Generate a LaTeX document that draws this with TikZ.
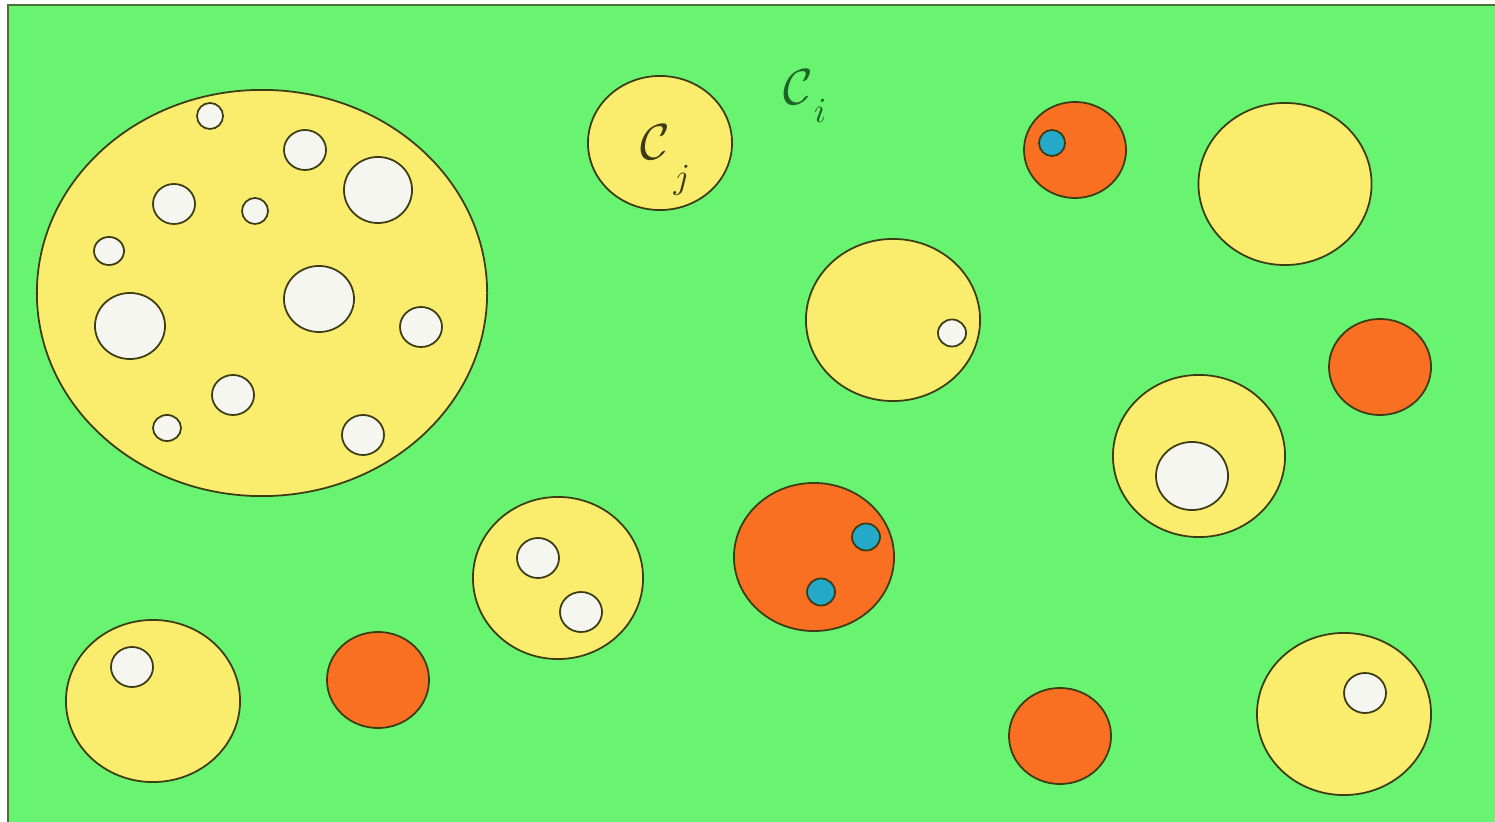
\documentclass[tikz,border=0pt]{standalone}
\usepackage{amsmath,amssymb}
\usepackage{tikz}
\usetikzlibrary{shapes.geometric, positioning}

\definecolor{field}{RGB}{104,244,112}
\definecolor{cellyel}{RGB}{250,236,108}
\definecolor{cellorg}{RGB}{250,112,34}
\definecolor{spotblue}{RGB}{36,170,200}
\definecolor{holewhite}{RGB}{246,246,240}
\definecolor{rim}{RGB}{60,60,20}
\definecolor{labgreen}{RGB}{30,100,40}

\begin{document}
\begin{tikzpicture}[
    x=0.01cm, y=-0.01cm, line width=0.5pt,
    cell/.style={ellipse, draw=rim, inner sep=0pt},
    yel/.style={cell, fill=cellyel},
    org/.style={cell, fill=cellorg},
    hole/.style={cell, fill=holewhite},
    spot/.style={cell, fill=spotblue}
]
\useasboundingbox (0,0) rectangle (1495,822);
\fill[white] (0,0) rectangle (1495,822);

% background field
\draw[draw=rim!70!field, fill=field] (8,5) rectangle (1500,830);

% 1. BIG CELL WITH HOLES
\node[yel, minimum width=4.50cm, minimum height=4.06cm] (big) at (262,293) {};
\node[hole, minimum width=0.26cm, minimum height=0.26cm] (h1) at (210,116) {};
\node[hole, minimum width=0.42cm, minimum height=0.40cm] (h2) at (305,150) {};
\node[hole, minimum width=0.68cm, minimum height=0.66cm] (h3) at (378,190) {};
\node[hole, minimum width=0.42cm, minimum height=0.40cm] (h4) at (174,204) {};
\node[hole, minimum width=0.26cm, minimum height=0.26cm] (h5) at (255,211) {};
\node[hole, minimum width=0.30cm, minimum height=0.28cm] (h6) at (109,251) {};
\node[hole, minimum width=0.70cm, minimum height=0.66cm] (h7) at (319,299) {};
\node[hole, minimum width=0.70cm, minimum height=0.66cm] (h8) at (130,326) {};
\node[hole, minimum width=0.42cm, minimum height=0.40cm] (h9) at (421,327) {};
\node[hole, minimum width=0.42cm, minimum height=0.40cm] (h10) at (233,395) {};
\node[hole, minimum width=0.28cm, minimum height=0.26cm] (h11) at (167,428) {};
\node[hole, minimum width=0.42cm, minimum height=0.40cm] (h12) at (363,435) {};

% 2. YELLOW CELLS
\node[yel, minimum width=1.44cm, minimum height=1.34cm] (cj) at (660,143) {};
\node[yel, minimum width=1.73cm, minimum height=1.62cm] (y1) at (1285,184) {};
\node[yel, minimum width=1.74cm, minimum height=1.62cm] (y2) at (893,320) {};
\node[hole, minimum width=0.28cm, minimum height=0.27cm] at (952,333) {};
\node[yel, minimum width=1.72cm, minimum height=1.62cm] (y3) at (1199,456) {};
\node[hole, minimum width=0.72cm, minimum height=0.68cm] at (1192,476) {};
\node[yel, minimum width=1.70cm, minimum height=1.62cm] (y4) at (558,578) {};
\node[hole, minimum width=0.42cm, minimum height=0.40cm] at (538,558) {};
\node[hole, minimum width=0.42cm, minimum height=0.40cm] at (581,612) {};
\node[yel, minimum width=1.74cm, minimum height=1.62cm] (y5) at (153,701) {};
\node[hole, minimum width=0.42cm, minimum height=0.40cm] at (132,667) {};
\node[yel, minimum width=1.74cm, minimum height=1.62cm] (y6) at (1344,714) {};
\node[hole, minimum width=0.42cm, minimum height=0.40cm] at (1365,693) {};

% 3. ORANGE CELLS
\node[org, minimum width=1.02cm, minimum height=0.96cm] (o1) at (1075,150) {};
\node[spot, minimum width=0.26cm, minimum height=0.26cm] at (1052,143) {};
\node[org, minimum width=1.02cm, minimum height=0.96cm] (o2) at (1380,367) {};
\node[org, minimum width=1.02cm, minimum height=0.96cm] (o3) at (378,680) {};
\node[org, minimum width=1.60cm, minimum height=1.48cm] (o4) at (814,557) {};
\node[spot, minimum width=0.28cm, minimum height=0.27cm] at (866,537) {};
\node[spot, minimum width=0.28cm, minimum height=0.27cm] at (821,592) {};
\node[org, minimum width=1.02cm, minimum height=0.96cm] (o5) at (1060,736) {};

% labels
\node[text=labgreen, font=\Large] (lci) at (806,96) {$\mathcal{C}_{\kern1pt\lower3pt\hbox{$\scriptstyle i$}}$};
\node[text=rim, font=\Large] (lcj) at (666,160) {$\mathcal{C}_{\kern2pt\lower6pt\hbox{$\scriptstyle j$}}$};
\end{tikzpicture}
\end{document}
